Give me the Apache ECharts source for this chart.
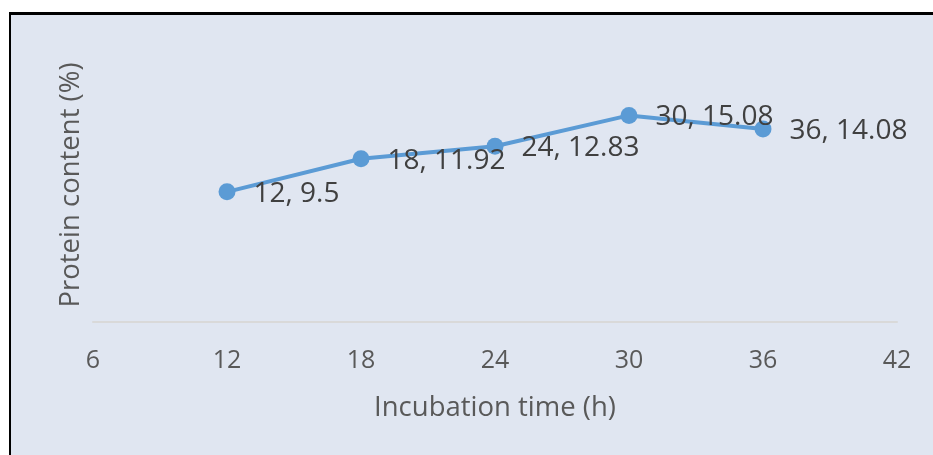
<!DOCTYPE html>
<html>
<head>
<meta charset="utf-8">
<script src="https://cdn.jsdelivr.net/npm/echarts@6/dist/echarts.min.js"></script>
<style>
  html, body { margin: 0; padding: 0; background: #ffffff; }
  #frame {
    position: absolute; left: 9px; top: 12px; right: 0; bottom: 0;
    background: #E0E6F1;
    border-top: 3px solid #000000;
    border-left: 2px solid #000000;
  }
  #chart { position: absolute; left: 0; top: 0; width: 933px; height: 455px; }
</style>
</head>
<body>
<div id="frame"></div>
<div id="chart"></div>
<script>
// Incubation time (h) and measured protein content (%)
const hours = [12, 18, 24, 30, 36];
const protein = [9.5, 11.92, 12.83, 15.08, 14.08];
const xTicks = [6, 12, 18, 24, 30, 36, 42];

const FONT = '"Open Sans", "Noto Sans", sans-serif';
const points = hours.map((h, i) => [h, protein[i]]);

const chart = echarts.init(document.getElementById('chart'), null, { renderer: 'canvas' });
chart.setOption({
  backgroundColor: 'transparent',
  animation: false,
  grid: { left: 93, right: 36, top: 48, bottom: 133, containLabel: false },
  xAxis: {
    type: 'value',
    min: xTicks[0],
    max: xTicks[xTicks.length - 1],
    interval: 6,
    name: 'Incubation time (h)',
    nameLocation: 'middle',
    nameGap: 72,
    nameTextStyle: { color: '#595959', fontSize: 27.5, fontFamily: FONT },
    axisLine: { show: true, lineStyle: { color: '#D9D9D9', width: 2 } },
    axisTick: { show: false },
    splitLine: { show: false },
    axisLabel: {
      color: '#595959', fontSize: 25, fontFamily: FONT, margin: 26,
      formatter: v => String(v)
    }
  },
  yAxis: {
    type: 'value',
    min: 0,
    max: 20,
    name: 'Protein content (%)',
    nameLocation: 'middle',
    nameGap: 8,
    nameTextStyle: { color: '#595959', fontSize: 27.5, fontFamily: FONT },
    axisLine: { show: false },
    axisTick: { show: false },
    axisLabel: { show: false },
    splitLine: { show: false }
  },
  series: [{
    type: 'line',
    data: points,
    symbol: 'circle',
    symbolSize: 17,
    lineStyle: { color: '#5B9BD5', width: 4 },
    itemStyle: { color: '#5B9BD5' },
    label: {
      show: true,
      position: 'right',
      distance: 18,
      offset: [0, 2],
      color: '#404040',
      fontSize: 28,
      fontFamily: FONT,
      formatter: p => p.value[0] + ', ' + p.value[1]
    }
  }]
});
</script>
</body>
</html>
